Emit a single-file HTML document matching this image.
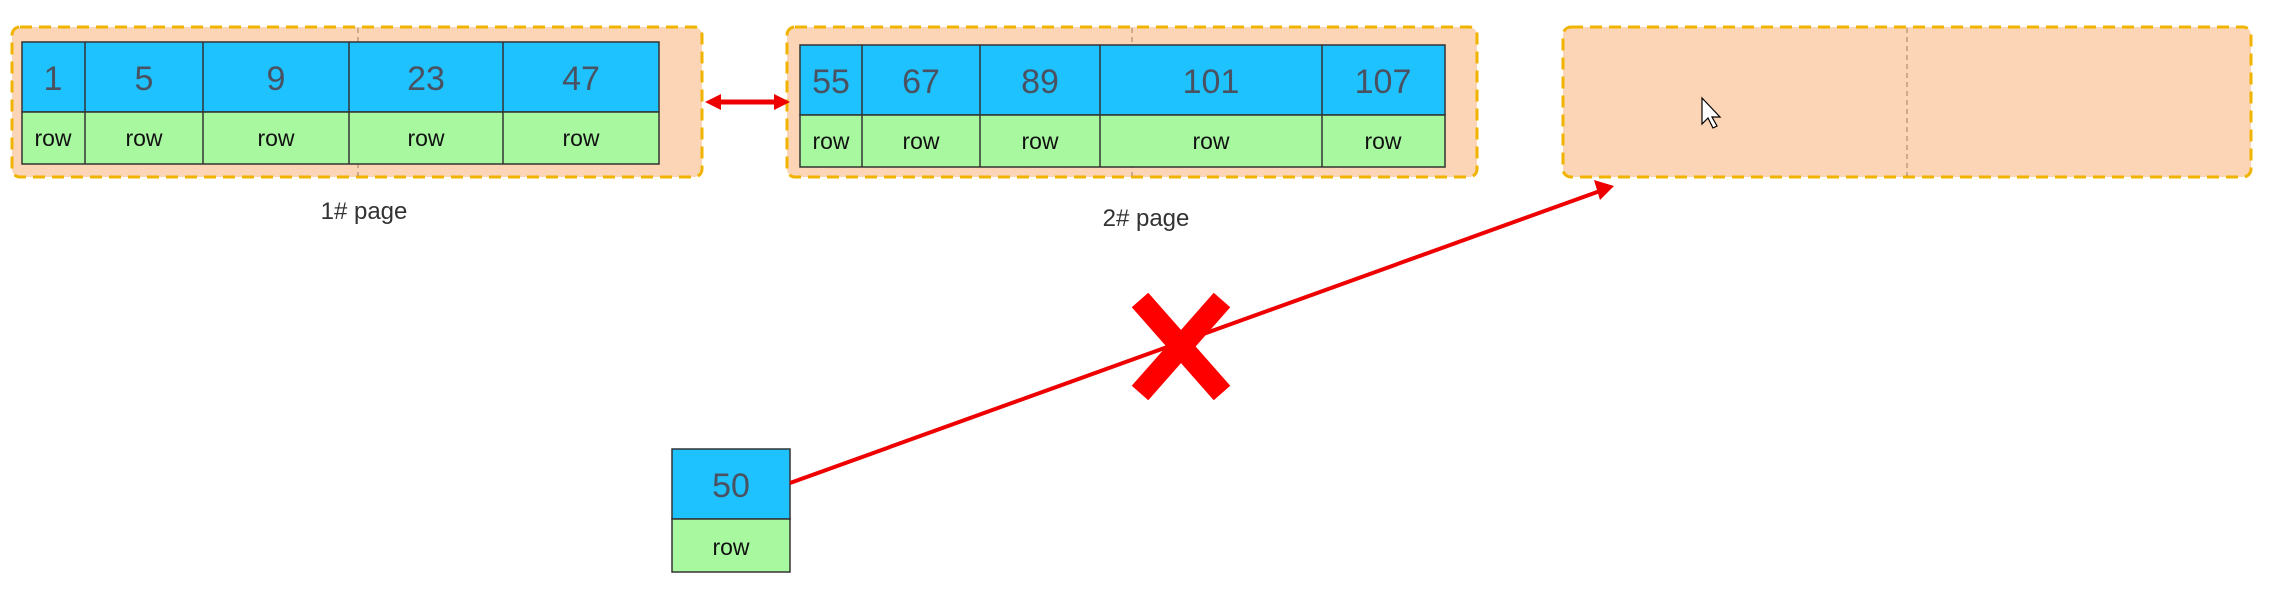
<!DOCTYPE html>
<html><head><meta charset="utf-8"><style>
body{margin:0;width:2281px;height:589px;background:#fff;overflow:hidden;position:relative;font-family:"Liberation Sans",sans-serif}
</style></head><body>
<svg width="2281" height="589" style="position:absolute;left:0;top:0" font-family="Liberation Sans, sans-serif">
<g stroke="#f0b400" stroke-width="3" stroke-dasharray="12,7" fill="#fbd5b5">
<rect x="12" y="27" width="690" height="150" rx="8"/>
<rect x="787" y="27" width="690" height="150" rx="8"/>
<rect x="1563" y="27" width="688" height="150" rx="8"/>
</g>
<g stroke="#a08060" stroke-width="1" stroke-dasharray="5,4">
<line x1="358" y1="28" x2="358" y2="176"/><line x1="1132" y1="28" x2="1132" y2="176"/><line x1="1907" y1="28" x2="1907" y2="176"/>
</g>
<g stroke="#333" stroke-width="1.5">
<rect x="22" y="42" width="637" height="70" fill="#1dc2ff"/><rect x="22" y="112" width="637" height="52" fill="#a8f8a0"/>
<line x1="85" y1="42" x2="85" y2="164"/><line x1="203" y1="42" x2="203" y2="164"/><line x1="349" y1="42" x2="349" y2="164"/><line x1="503" y1="42" x2="503" y2="164"/>
<rect x="800" y="45" width="645" height="70" fill="#1dc2ff"/><rect x="800" y="115" width="645" height="52" fill="#a8f8a0"/>
<line x1="862" y1="45" x2="862" y2="167"/><line x1="980" y1="45" x2="980" y2="167"/><line x1="1100" y1="45" x2="1100" y2="167"/><line x1="1322" y1="45" x2="1322" y2="167"/>
<rect x="672" y="449" width="118" height="70" fill="#1dc2ff"/><rect x="672" y="519" width="118" height="53" fill="#a8f8a0"/>
</g>
<g font-size="34" fill="#4a5262" text-anchor="middle">
<text x="53" y="90">1</text><text x="144" y="90">5</text><text x="276" y="90">9</text><text x="426" y="90">23</text><text x="581" y="90">47</text>
<text x="831" y="93">55</text><text x="921" y="93">67</text><text x="1040" y="93">89</text><text x="1211" y="93">101</text><text x="1383" y="93">107</text>
<text x="731" y="497">50</text>
</g>
<g font-size="23" fill="#111" text-anchor="middle">
<text x="53" y="146">row</text><text x="144" y="146">row</text><text x="276" y="146">row</text><text x="426" y="146">row</text><text x="581" y="146">row</text>
<text x="831" y="149">row</text><text x="921" y="149">row</text><text x="1040" y="149">row</text><text x="1211" y="149">row</text><text x="1383" y="149">row</text>
<text x="731" y="555">row</text>
</g>
<g font-size="24" fill="#333" text-anchor="middle">
<text x="364" y="219">1#  page</text><text x="1146" y="226">2#  page</text>
</g>
<line x1="718" y1="102" x2="776" y2="102" stroke="#e00" stroke-width="5"/>
<path d="M705,102 L721,94 L721,110 z" fill="#e00"/>
<path d="M790,102 L774,94 L774,110 z" fill="#e00"/>
<line x1="790" y1="483" x2="1600" y2="191" stroke="#e00" stroke-width="4"/>
<path d="M1594,180 L1614,186 L1600,200 z" fill="#e00"/>
<g stroke="#f00" stroke-width="22">
<line x1="1140" y1="300" x2="1222" y2="393"/><line x1="1222" y1="300" x2="1140" y2="393"/>
</g>
<path d="M1702,98 L1702,124 L1708,118 L1713,128 L1717,126 L1712,117 L1720,117 z" fill="#fff" stroke="#000" stroke-width="1.2"/>
</svg>
</body></html>
